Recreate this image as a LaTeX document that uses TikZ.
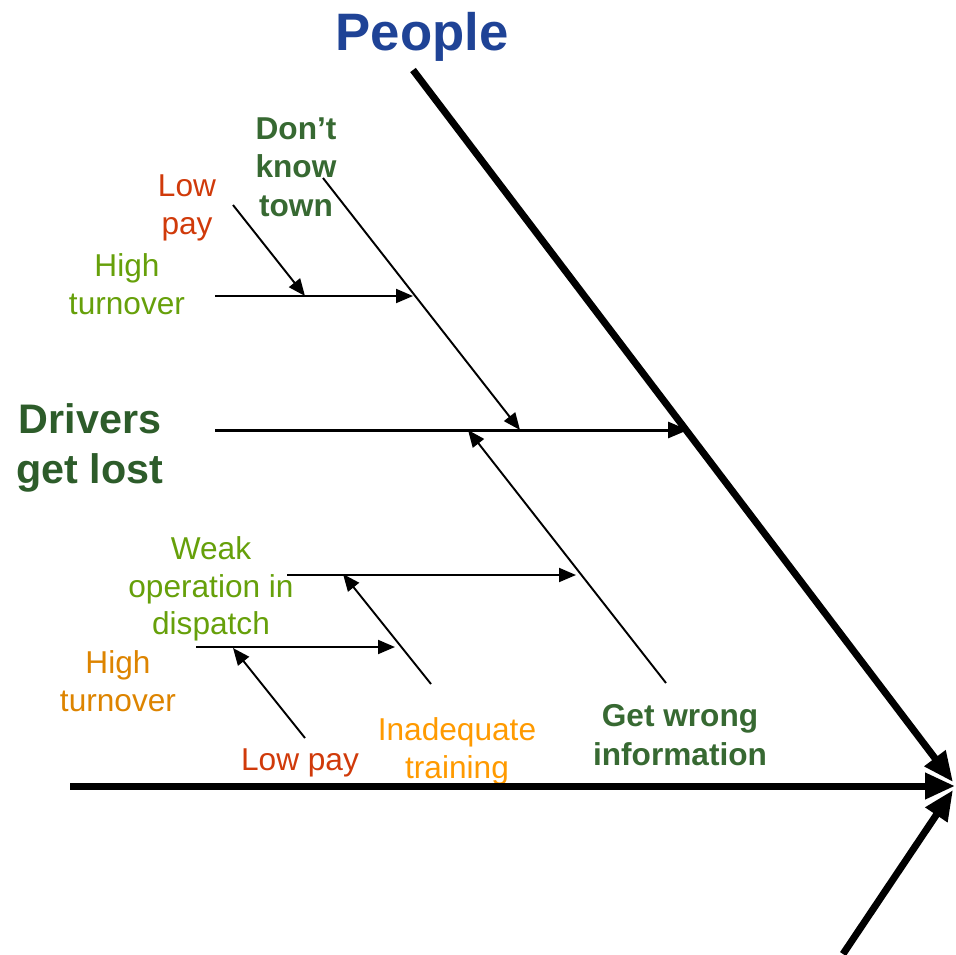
\documentclass[tikz,border=0pt]{standalone}
\usepackage{fontspec}
\setmainfont{Liberation Sans}
\usepackage{tikz}
\usetikzlibrary{calc,positioning,arrows.meta}
\definecolor{peopleblue}{RGB}{31,67,150}
\definecolor{darkgreen}{RGB}{45,92,42}
\definecolor{midgreen}{RGB}{55,105,50}
\definecolor{lightgreen}{RGB}{102,160,10}
\definecolor{lowred}{RGB}{208,58,10}
\definecolor{brownorange}{RGB}{221,132,0}
\definecolor{brightorange}{RGB}{255,154,0}
\tikzset{
  bone/.style={line width=4pt,-{Triangle[length=6mm,width=5mm]}},
  mainbone/.style={line width=1.7pt,-{Triangle[length=4mm,width=3.2mm]}},
  twig/.style={line width=1.1pt,-{Triangle[length=3.4mm,width=2.8mm]}},
  cause/.style={align=center,inner sep=0pt,font=\fontsize{18}{21.5}\selectfont},
  boldcause/.style={cause,font=\fontsize{18}{22}\selectfont\bfseries},
}

\begin{document}
\begin{tikzpicture}[x=0.02cm,y=-0.02cm]
  \useasboundingbox (0,0) rectangle (956,954);

  % heads and tails
  \coordinate (tail) at (70,786);
  \coordinate (head) at (955,786);
  \coordinate (ptop) at (413,70);
  \coordinate (phead) at (953,782);
  \coordinate (lowstart) at (843,954);
  \coordinate (lowhead) at (953,790);

  \node [text=peopleblue,font=\fontsize{30}{36}\selectfont\bfseries] (people) at (422,37) {People};
  \node [text=darkgreen,align=center,font=\fontsize{23.5}{28.4}\selectfont\bfseries] (drivers) at (90,448) {Drivers\\get lost};
  \node [boldcause,text=midgreen] (dkt) at (296,167) {Don’t\\know\\town};
  \node [cause,text=lowred] (lowpayA) at (187,208) {Low\\pay};
  \node [cause,text=lightgreen] (highA) at (127,284) {High\\turnover};
  \node [boldcause,text=midgreen] (wrong) at (680,735) {Get wrong\\information};
  \node [cause,text=lightgreen] (weak) at (211,589) {Weak\\operation in\\dispatch};
  \node [cause,text=brightorange] (inad) at (457,751) {Inadequate\\training};
  \node [cause,text=brownorange] (highB) at (118,681) {High\\turnover};
  \node [cause,text=lowred] (lowpayB) at (300,763) {Low pay};

  % branch points
  \coordinate (d0) at (215,430);
  \coordinate (d1) at (688,430);
  \coordinate (k0) at (323,178);
  \coordinate (k1) at (520,430);
  \coordinate (h0) at (215,296);
  \coordinate (h1) at (413,296);
  \coordinate (l0) at (233,205);
  \coordinate (l1) at (305,296);
  \coordinate (g0) at (666,683);
  \coordinate (g1) at (468,430);
  \coordinate (w0) at (287,575);
  \coordinate (w1) at (576,575);
  \coordinate (i0) at (431,684);
  \coordinate (i1) at (343,574);
  \coordinate (t0) at (196,647);
  \coordinate (t1) at (395,647);
  \coordinate (p0) at (305,738);
  \coordinate (p1) at (233,648);

  \draw [bone] (tail) -- (head);
  \draw [bone] (ptop) -- (phead);
  \draw [bone] (lowstart) -- (lowhead);

  \draw [mainbone] (d0) -- (d1);
  \draw [twig] (k0) -- (k1);
  \draw [twig] (h0) -- (h1);
  \draw [twig] (l0) -- (l1);
  \draw [twig] (g0) -- (g1);
  \draw [twig] (w0) -- (w1);
  \draw [twig] (i0) -- (i1);
  \draw [twig] (t0) -- (t1);
  \draw [twig] (p0) -- (p1);
\end{tikzpicture}
\end{document}
